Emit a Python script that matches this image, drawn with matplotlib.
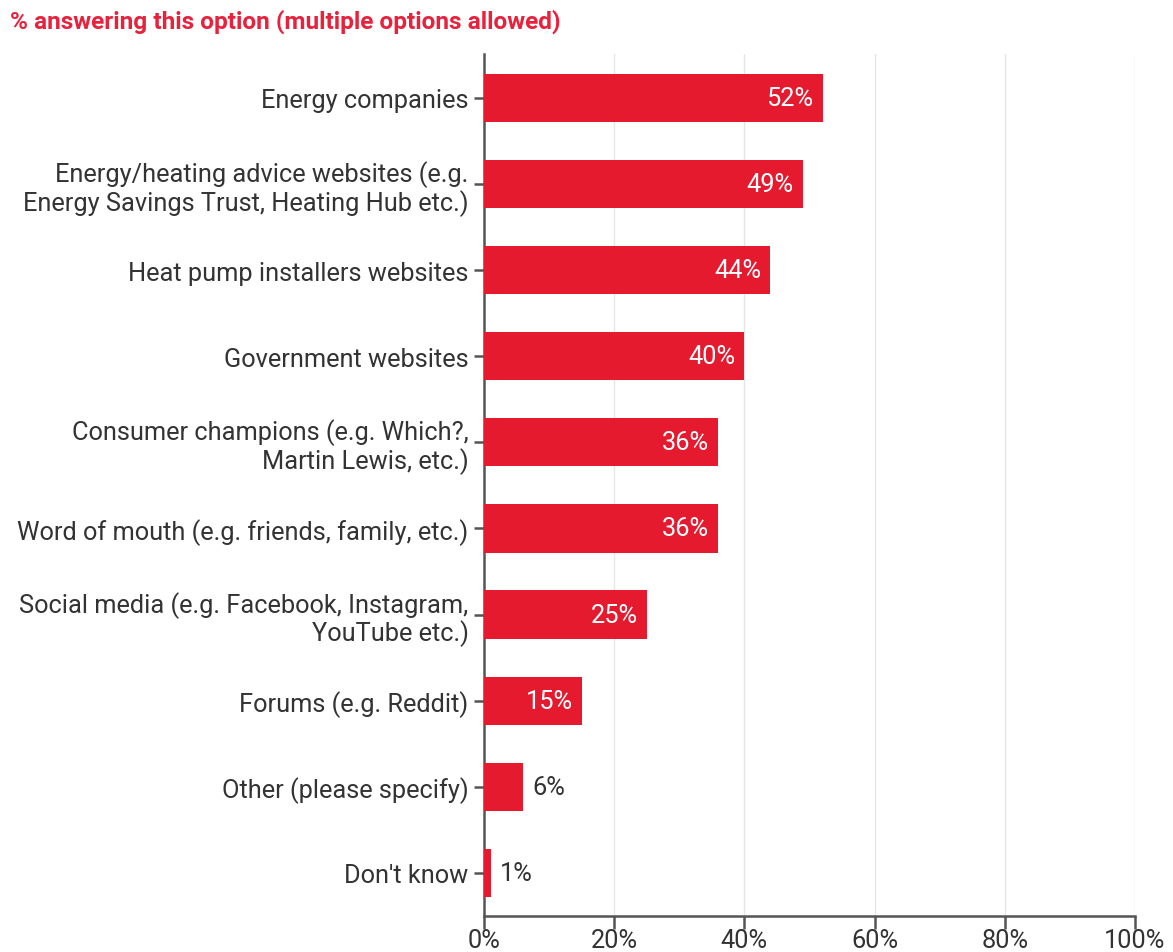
import matplotlib
matplotlib.use("Agg")
import matplotlib.pyplot as plt

categories = [
    "Energy companies",
    "Energy/heating advice websites (e.g.\nEnergy Savings Trust, Heating Hub etc.)",
    "Heat pump installers websites",
    "Government websites",
    "Consumer champions (e.g. Which?,\nMartin Lewis, etc.)",
    "Word of mouth (e.g. friends, family, etc.)",
    "Social media (e.g. Facebook, Instagram,\nYouTube etc.)",
    "Forums (e.g. Reddit)",
    "Other (please specify)",
    "Don't know",
]
values = [52, 49, 44, 40, 36, 36, 25, 15, 6, 1]
xticks = [0, 20, 40, 60, 80, 100]
xtick_labels = ["0%", "20%", "40%", "60%", "80%", "100%"]
title = "% answering this option (multiple options allowed)"

RED = "#E51A2E"
TXT = "#333333"
FS = 18.3
plt.rcParams['font.family'] = ['Roboto', 'DejaVu Sans']

fig = plt.figure(figsize=(11.73, 9.53), dpi=100)
ax = fig.add_axes([484/1173, 1-917/953, (1135-484)/1173, (917-55)/953])

y = list(range(len(categories)))
ax.barh(y, values, height=0.56, color=RED, zorder=3)
ax.set_ylim(len(categories)-0.5, -0.51)
ax.set_xlim(0, 100)
ax.set_yticks(y)
ax.set_yticklabels(categories, fontsize=FS, color=TXT, linespacing=1.08)
ax.set_xticks(xticks)
ax.set_xticklabels(xtick_labels, fontsize=FS, color=TXT)

for yi, v in zip(y, values):
    if v >= 10:
        ax.text(v - 1.4, yi, f"{v}%", ha="right", va="center", color="white",
                fontsize=FS, zorder=4)
    else:
        ax.text(v + 1.4, yi, f"{v}%", ha="left", va="center", color=TXT,
                fontsize=FS, zorder=4)

for s in ["top", "right"]:
    ax.spines[s].set_visible(False)
for s in ["left", "bottom"]:
    ax.spines[s].set_color("#555555")
    ax.spines[s].set_linewidth(1.8)
ax.grid(axis="x", color="#e6e6e6", linewidth=1, zorder=0)
ax.tick_params(axis="y", length=7, width=1.8, color="#555555", pad=4)
ax.tick_params(axis="x", length=9, width=1.8, color="#555555", pad=0)

fig.text(10/1173, 1-22/953, title, color="#E8213C", fontsize=17.6,
         fontweight="bold", ha="left", va="center")

fig.savefig("out.png", dpi=100)
